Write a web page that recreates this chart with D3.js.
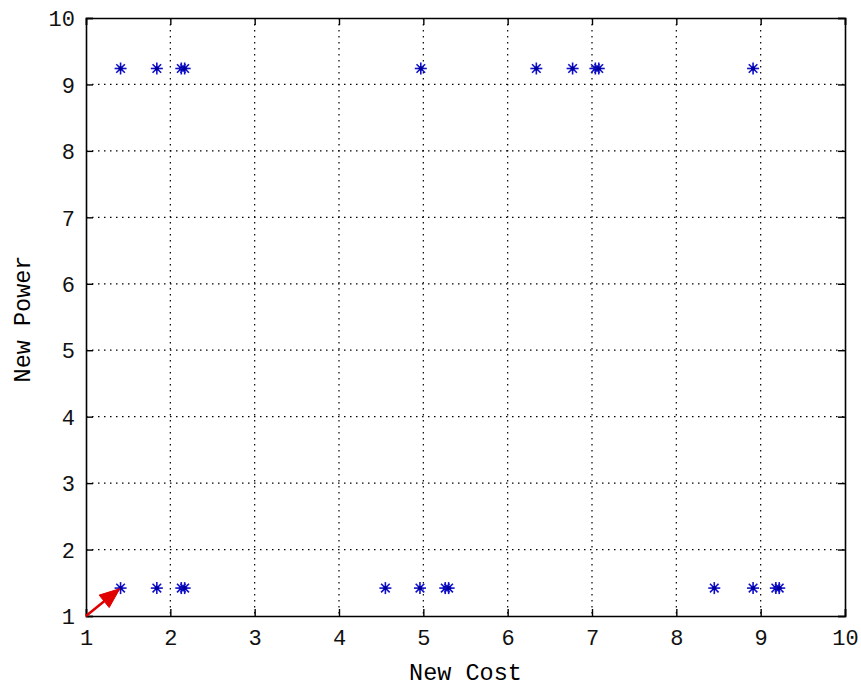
<!DOCTYPE html>
<html><head><meta charset="utf-8">
<script src="https://cdn.jsdelivr.net/npm/d3@7"></script>
<style>body{margin:0;background:#fff;} text{font-family:"Liberation Mono","Courier New",monospace;}</style>
</head><body>
<svg id="c" width="861" height="689"></svg>
<script>
const xTicks = [1,2,3,4,5,6,7,8,9,10];
const yTicks = [1,2,3,4,5,6,7,8,9,10];
const costTop = [1.41, 1.84, 2.13, 2.17, 4.97, 6.34, 6.77, 7.04, 7.08, 8.91];
const powerTop = [9.24, 9.24, 9.24, 9.24, 9.24, 9.24, 9.24, 9.24, 9.24, 9.24];
const costBottom = [1.41, 1.84, 2.13, 2.17, 4.55, 4.96, 5.26, 5.30, 8.45, 8.91, 9.18, 9.22];
const powerBottom = [1.42, 1.42, 1.42, 1.42, 1.42, 1.42, 1.42, 1.42, 1.42, 1.42, 1.42, 1.42];
const arrowFrom = [1, 1];
const arrowTo = [1.4, 1.41];

const svg = d3.select("#c");
const L = 86, R = 845, T = 18, B = 616;
const x = d3.scaleLinear().domain([1,10]).range([L,R]);
const y = d3.scaleLinear().domain([1,10]).range([B,T]);
const font = "'Liberation Mono','Courier New',monospace";

// grid
const g = svg.append("g");
g.selectAll(".gx").data(xTicks.slice(1,-1)).join("line")
  .attr("x1", d=>x(d)).attr("x2", d=>x(d)).attr("y1", T).attr("y2", B)
  .attr("stroke","#000").attr("stroke-width",1.2).attr("stroke-dasharray","1.5,4.5");
g.selectAll(".gy").data(yTicks.slice(1,-1)).join("line")
  .attr("y1", d=>y(d)).attr("y2", d=>y(d)).attr("x1", L).attr("x2", R)
  .attr("stroke","#000").attr("stroke-width",1.2).attr("stroke-dasharray","1.5,4.5");

// axes
const fs = 22;
const ax = d3.axisBottom(x).tickValues(xTicks).tickSize(-7).tickPadding(13).tickFormat(d3.format("d"));
const axB = svg.append("g").attr("transform",`translate(0,${B})`).call(ax);
const axT = svg.append("g").attr("transform",`translate(0,${T})`).call(d3.axisTop(x).tickValues(xTicks).tickSize(-7).tickFormat(""));
const ay = d3.axisLeft(y).tickValues(yTicks).tickSize(-7).tickPadding(11).tickFormat(d3.format("d"));
const axL = svg.append("g").attr("transform",`translate(${L},0)`).call(ay);
const axR = svg.append("g").attr("transform",`translate(${R},0)`).call(d3.axisRight(y).tickValues(yTicks).tickSize(-7).tickFormat(""));
[axB,axT,axL,axR].forEach(a=>{
  a.select(".domain").attr("stroke","#000").attr("stroke-width",1.6);
  a.selectAll(".tick line").attr("stroke","#000").attr("stroke-width",1.4);
  a.selectAll("text").attr("font-size",fs).attr("fill","#111").style("font-family",font);
});
axL.selectAll("text").attr("dy","0.35em");

// labels
svg.append("text").attr("x",(L+R)/2).attr("y",680).attr("text-anchor","middle")
  .attr("font-size",23.5).style("font-family",font).text("New Cost");
svg.append("text").attr("transform",`translate(30,${(T+B)/2 + 2}) rotate(-90)`).attr("text-anchor","middle")
  .attr("font-size",23.5).style("font-family",font).text("New Power");

// markers
const pts = costTop.map((c,i)=>[c,powerTop[i]]).concat(costBottom.map((c,i)=>[c,powerBottom[i]]));
const s = 6, sd = 4.3;
const mk = svg.append("g").attr("stroke","#1010c8").attr("stroke-width",1.6);
pts.forEach(p=>{
  const cx = x(p[0]), cy = y(p[1]);
  const m = mk.append("g").attr("transform",`translate(${cx},${cy})`);
  m.append("line").attr("x1",-s).attr("x2",s).attr("y1",0).attr("y2",0);
  m.append("line").attr("y1",-s).attr("y2",s).attr("x1",0).attr("x2",0);
  m.append("line").attr("x1",-sd).attr("x2",sd).attr("y1",-sd).attr("y2",sd);
  m.append("line").attr("x1",-sd).attr("x2",sd).attr("y1",sd).attr("y2",-sd);
  m.append("circle").attr("r",2.2).attr("fill","#0000a0").attr("stroke","none");
});

// arrow
const ax0 = x(arrowFrom[0]), ay0 = y(arrowFrom[1]), ax1 = x(arrowTo[0]), ay1 = y(arrowTo[1]);
const ang = Math.atan2(ay1-ay0, ax1-ax0);
const hl = 20, hw = 8;
const bx = ax1 - hl*Math.cos(ang), by = ay1 - hl*Math.sin(ang);
svg.append("line").attr("x1",ax0).attr("y1",ay0).attr("x2",bx).attr("y2",by)
  .attr("stroke","#e00000").attr("stroke-width",2.5);
svg.append("path").attr("d",`M${ax1},${ay1}L${bx - hw*Math.sin(ang)},${by + hw*Math.cos(ang)}L${bx + hw*Math.sin(ang)},${by - hw*Math.cos(ang)}Z`)
  .attr("fill","#e00000").attr("stroke","#e00000").attr("stroke-width",1);
</script>
</body></html>
